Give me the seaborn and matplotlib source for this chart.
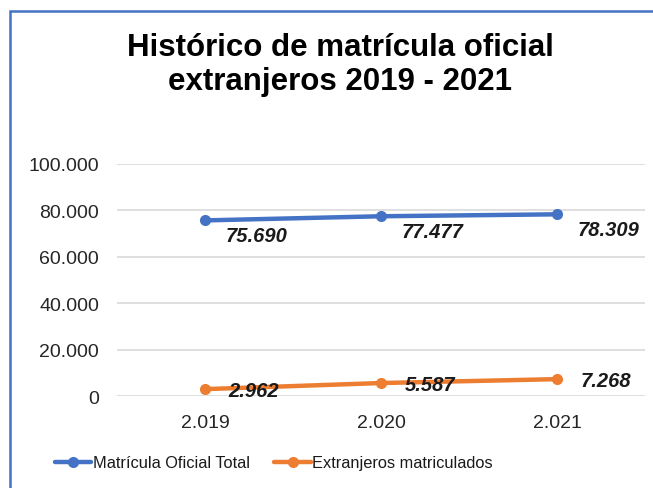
import matplotlib
matplotlib.use("Agg")
import matplotlib.pyplot as plt
import seaborn as sns
import pandas as pd
from matplotlib.ticker import FuncFormatter
from matplotlib.patches import Rectangle

years = ["2.019", "2.020", "2.021"]
total = [75690, 77477, 78309]
extranjeros = [2962, 5587, 7268]
series_names = ["Matrícula Oficial Total", "Extranjeros matriculados"]
colors = ["#4472C4", "#ED7D31"]

df = pd.DataFrame({
    "year": years * 2,
    "value": total + extranjeros,
    "serie": [series_names[0]] * 3 + [series_names[1]] * 3,
})

sns.set_theme(style="white")
plt.rcParams["font.family"] = ["Liberation Sans", "DejaVu Sans"]

fig = plt.figure(figsize=(6.53, 4.89), dpi=100)
ax = fig.add_axes([117/653, 1-397/489, (645-117)/653, (397-165)/489])

sns.lineplot(data=df, x="year", y="value", hue="serie", palette=colors,
             marker="o", markersize=8, markeredgewidth=0, linewidth=3.2,
             ax=ax, sort=False)

ax.set_xlim(-0.5, 2.5)
ax.set_ylim(0, 100000)
ax.set_yticks(range(0, 100001, 20000))
ax.yaxis.set_major_formatter(FuncFormatter(lambda v, p: f"{int(v):,}".replace(",", ".")))
ax.grid(axis="y", color="#D9D9D9", linewidth=1.2)
ax.set_axisbelow(True)
for s in ax.spines.values():
    s.set_visible(False)
ax.tick_params(axis="both", length=0, labelsize=14, colors="#262626")
ax.tick_params(axis="y", pad=13)
ax.tick_params(axis="x", pad=13)
ax.set_xlabel("")
ax.set_ylabel("")

def fmt(v):
    return f"{v:,}".replace(",", ".")

for i, v in enumerate(total):
    ax.annotate(fmt(v), (i, v), xytext=(37, -11), textcoords="offset points",
                ha="center", va="center", fontsize=14.5, fontweight="bold",
                fontstyle="italic", color="#1a1a1a")
for i, v in enumerate(extranjeros):
    ax.annotate(fmt(v), (i, v), xytext=(35, -1), textcoords="offset points",
                ha="center", va="center", fontsize=14.5, fontweight="bold",
                fontstyle="italic", color="#1a1a1a")

leg = ax.legend(loc="center", bbox_to_anchor=(274/653, 1-464/489),
                bbox_transform=fig.transFigure, ncol=2, frameon=False,
                fontsize=11.8, handlelength=2.2, handletextpad=0.1,
                columnspacing=1.5)
for t in leg.get_texts():
    t.set_color("#1a1a1a")

fig.text(340/653, 1-65/489, "Histórico de matrícula oficial\nextranjeros 2019 - 2021",
         ha="center", va="center", fontsize=22.5, fontweight="bold",
         color="#000000", linespacing=1.2)

fig.patches.append(Rectangle((10/653, -0.1), 1.2, (1-12/489) + 0.1,
                             transform=fig.transFigure, fill=False,
                             edgecolor="#4472C4", linewidth=1.8))

fig.savefig("out.png", dpi=100)
